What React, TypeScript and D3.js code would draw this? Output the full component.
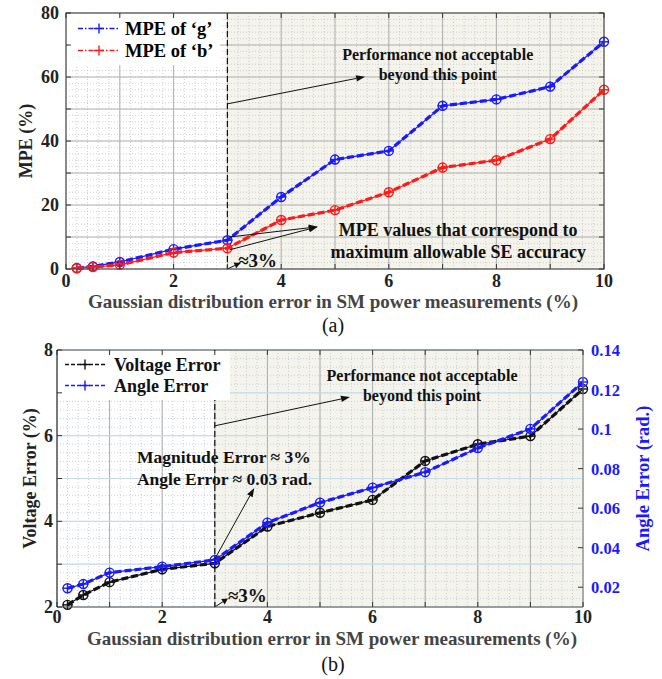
import React from 'react';
import * as d3 from 'd3';

// x values shared by both panels (% gaussian error)
const errLevels = [0.2, 0.5, 1, 2, 3, 4, 5, 6, 7, 8, 9, 10];

// panel (a)
const mpeG = [0.3, 0.8, 2.2, 6.2, 9.0, 22.5, 34.2, 36.9, 51, 53, 57, 71];
const mpeB = [0.2, 0.6, 1.3, 5.1, 6.5, 15.3, 18.4, 24, 31.7, 34, 40.6, 56];

// panel (b)
const voltErr = [2.05, 2.28, 2.58, 2.88, 3.02, 3.88, 4.2, 4.5, 5.41, 5.8, 5.99, 7.09];
const angleErr = [0.0195, 0.0216, 0.0274, 0.0304, 0.0338, 0.0527, 0.0628, 0.0704, 0.0782, 0.0904, 0.1001, 0.1238];

const xTicks = [0, 2, 4, 6, 8, 10];
const mpeTicks = [0, 20, 40, 60, 80];
const voltTicks = [2, 4, 6, 8];
const angleTicks = [0.02, 0.04, 0.06, 0.08, 0.1, 0.12, 0.14];

const FONT = '"Liberation Serif", "Times New Roman", serif';
const SHADE = '#f4f4ec';
const XLABEL = 'Gaussian distribution error in SM power measurements (%)';

const Marker = ({ x, y, color, circle = true }: any) => (
  <g stroke={color} strokeWidth={1.4} fill="none">
    {circle && <circle cx={x} cy={y} r={4.5} />}
    <line x1={x - 5} x2={x + 5} y1={y} y2={y} />
    <line x1={x} x2={x} y1={y - 5} y2={y + 5} />
  </g>
);

const Series = ({ xs, ys, x, y, color }: any) => {
  const pts = xs.map((v: number, i: number) => [x(v), y(ys[i])] as [number, number]);
  const path = d3.line()(pts) || '';
  return (
    <g>
      <path d={path} fill="none" stroke={color} strokeWidth={1.2} />
      <path d={path} fill="none" stroke={color} strokeWidth={3.2} strokeDasharray="7 3" />
      {pts.map((p: [number, number], i: number) => (
        <Marker key={i} x={p[0]} y={p[1]} color={color} />
      ))}
    </g>
  );
};

const Arrow = ({ x1, y1, x2, y2, head = 9 }: any) => {
  const a = Math.atan2(y2 - y1, x2 - x1);
  const w = 3.2;
  const bx = x2 - head * Math.cos(a);
  const by = y2 - head * Math.sin(a);
  const p = `${x2},${y2} ${bx - w * Math.sin(a)},${by + w * Math.cos(a)} ${bx + w * Math.sin(a)},${by - w * Math.cos(a)}`;
  return (
    <g>
      <line x1={x1} y1={y1} x2={bx} y2={by} stroke="#111" strokeWidth={1} />
      <polygon points={p} fill="#111" />
    </g>
  );
};

function PanelA() {
  const L = 66, R = 604, T = 13, B = 269;
  const x = d3.scaleLinear().domain([0, 10]).range([L, R]);
  const y = d3.scaleLinear().domain([0, 80]).range([B, T]);
  const minorX = d3.range(0, 10.001, 0.2);
  const minorY = d3.range(0, 80.001, 2);
  const majorX = d3.range(0, 11, 1);
  const majorY = d3.range(0, 81, 10);

  return (
    <g fontFamily={FONT} fontWeight="bold">
      <rect x={L} y={T} width={R - L} height={B - T} fill="#fff" />
      <rect x={x(3)} y={T} width={R - x(3)} height={B - T} fill={SHADE} />
      {minorX.map((v) => (
        <line key={'mx' + v} x1={x(v)} x2={x(v)} y1={T} y2={B} stroke="#c4c4c4" strokeWidth={0.8} strokeDasharray="1 2" />
      ))}
      {minorY.map((v) => (
        <line key={'my' + v} x1={L} x2={R} y1={y(v)} y2={y(v)} stroke="#c4c4c4" strokeWidth={0.8} strokeDasharray="1 2" />
      ))}
      {majorX.map((v) => (
        <line key={'Mx' + v} x1={x(v)} x2={x(v)} y1={T} y2={B} stroke="#b0b0b0" strokeWidth={1} />
      ))}
      {majorY.map((v) => (
        <line key={'My' + v} x1={L} x2={R} y1={y(v)} y2={y(v)} stroke="#b0b0b0" strokeWidth={1} />
      ))}
      <line x1={x(3)} x2={x(3)} y1={T} y2={B} stroke="#111" strokeWidth={1.2} strokeDasharray="6 3" />

      {/* legend */}
      <rect x={L + 2} y={T + 2} width={152} height={50} fill="#fff" />
      {[
        { c: '#1a1aff', t: 'MPE of \u2018g\u2019', yv: 28.5 },
        { c: '#ff1a1a', t: 'MPE of \u2018b\u2019', yv: 50.5 },
      ].map((d) => (
        <g key={d.t}>
          <line x1={78} x2={120} y1={d.yv} y2={d.yv} stroke={d.c} strokeWidth={1.3} strokeDasharray="5 2 1.5 2" />
          <Marker x={99} y={d.yv} color={d.c} circle={false} />
          <text x={125} y={d.yv + 6} fontSize={18.5}>{d.t}</text>
        </g>
      ))}

      <Series xs={errLevels} ys={mpeG} x={x} y={y} color="#1a1aff" />
      <Series xs={errLevels} ys={mpeB} x={x} y={y} color="#ff1a1a" />

      {/* annotations */}
      <Arrow x1={x(3)} y1={y(51.6)} x2={x(5.56)} y2={y(60.1)} />
      <text x={x(6.91)} y={y(65.3)} fontSize={16} textAnchor="middle" fill="#111">Performance not acceptable</text>
      <text x={x(6.91)} y={y(59.2)} fontSize={16} textAnchor="middle" fill="#111">beyond this point</text>
      <Arrow x1={x(3.04)} y1={y(10)} x2={x(4.68)} y2={y(13.2)} />
      <Arrow x1={x(3.04)} y1={y(6)} x2={x(4.68)} y2={y(13.2)} />
      <text x={x(7.29)} y={y(10.3)} fontSize={18} textAnchor="middle" fill="#111">MPE values that correspond to</text>
      <text x={x(7.29)} y={y(3.4)} fontSize={18} textAnchor="middle" fill="#111">maximum allowable SE accuracy</text>
      <Arrow x1={x(3)} y1={y(0)} x2={x(3.24)} y2={y(1.9)} head={6} />
      <text x={x(3.2)} y={y(0.6)} fontSize={19} fill="#111">{'\u22483%'}</text>

      {/* frame + ticks */}
      <rect x={L} y={T} width={R - L} height={B - T} fill="none" stroke="#444" strokeWidth={1} />
      {majorX.map((v) => (
        <g key={'tx' + v}>
          <line x1={x(v)} x2={x(v)} y1={B} y2={B - 5} stroke="#333" />
          <line x1={x(v)} x2={x(v)} y1={T} y2={T + 5} stroke="#333" />
        </g>
      ))}
      {majorY.map((v) => (
        <g key={'ty' + v}>
          <line x1={L} x2={L + 5} y1={y(v)} y2={y(v)} stroke="#333" />
          <line x1={R} x2={R - 5} y1={y(v)} y2={y(v)} stroke="#333" />
        </g>
      ))}
      {xTicks.map((v) => (
        <text key={'lx' + v} x={x(v)} y={B + 18} fontSize={18} textAnchor="middle" fill="#222">{v}</text>
      ))}
      {mpeTicks.map((v) => (
        <text key={'ly' + v} x={L - 7} y={y(v) + 6} fontSize={18} textAnchor="end" fill="#222">{v}</text>
      ))}
      <text transform={`translate(${L - 34},${(T + B) / 2}) rotate(-90)`} fontSize={18} textAnchor="middle" fill="#222">MPE (%)</text>
      <text x={333} y={B + 39} fontSize={19} textAnchor="middle" fill="#444">{XLABEL}</text>
      <text x={333} y={332} fontSize={20} fontWeight="normal" textAnchor="middle" fill="#111">(a)</text>
    </g>
  );
}

function PanelB() {
  const L = 57, R = 583, T = 350, B = 607;
  const x = d3.scaleLinear().domain([0, 10]).range([L, R]);
  const y = d3.scaleLinear().domain([2, 8]).range([B, T]);
  const y2 = d3.scaleLinear().domain([0.01, 0.14]).range([B, T]);
  const minorX = d3.range(0, 10.001, 0.2);
  const minorY = d3.range(2, 8.001, 0.2);
  const majorX = d3.range(0, 11, 1);
  const majorY = d3.range(2, 9, 1);

  return (
    <g fontFamily={FONT} fontWeight="bold">
      <rect x={L} y={T} width={R - L} height={B - T} fill="#fff" />
      <rect x={x(3)} y={T} width={R - x(3)} height={B - T} fill={SHADE} />
      {minorX.map((v) => (
        <line key={'mx' + v} x1={x(v)} x2={x(v)} y1={T} y2={B} stroke="#b9c6cf" strokeWidth={0.8} strokeDasharray="1 2" />
      ))}
      {minorY.map((v) => (
        <line key={'my' + v} x1={L} x2={R} y1={y(v)} y2={y(v)} stroke="#b9c9d6" strokeWidth={0.8} strokeDasharray="1 2" />
      ))}
      {majorX.map((v) => (
        <line key={'Mx' + v} x1={x(v)} x2={x(v)} y1={T} y2={B} stroke="#aaaaaa" strokeWidth={1} />
      ))}
      {majorY.map((v) => (
        <line key={'My' + v} x1={L} x2={R} y1={y(v)} y2={y(v)} stroke="#c5dcea" strokeWidth={1.2} />
      ))}
      <line x1={x(3)} x2={x(3)} y1={T} y2={B} stroke="#111" strokeWidth={1.2} strokeDasharray="6 3" />

      {/* legend */}
      <rect x={L + 1} y={T + 1} width={172} height={49} fill="#fff" />
      {[
        { c: '#111111', t: 'Voltage Error', yv: 364.5 },
        { c: '#1a1aff', t: 'Angle Error', yv: 385.5 },
      ].map((d) => (
        <g key={d.t}>
          <line x1={65} x2={106} y1={d.yv} y2={d.yv} stroke={d.c} strokeWidth={1.3} strokeDasharray="4 2" />
          <Marker x={85} y={d.yv} color={d.c} circle={false} />
          <text x={114} y={d.yv + 6} fontSize={18} fill="#111">{d.t}</text>
        </g>
      ))}

      <Series xs={errLevels} ys={voltErr} x={x} y={y} color="#111111" />
      <Series xs={errLevels} ys={angleErr} x={x} y={y2} color="#1a1aff" />

      {/* annotations */}
      <Arrow x1={x(3)} y1={y(6.23)} x2={x(5.57)} y2={y(6.9)} />
      <text x={x(6.94)} y={y(7.28)} fontSize={16} textAnchor="middle" fill="#111">Performance not acceptable</text>
      <text x={x(6.94)} y={y(6.81)} fontSize={16} textAnchor="middle" fill="#111">beyond this point</text>
      <text x={x(1.52)} y={y(5.36)} fontSize={17.5} fill="#111">{'Magnitude Error \u2248 3%'}</text>
      <text x={x(1.52)} y={y(4.85)} fontSize={17.5} fill="#111">{'Angle Error \u2248 0.03 rad.'}</text>
      <Arrow x1={x(3)} y1={y(3.12)} x2={x(3.75)} y2={y(4.78)} />
      <Arrow x1={x(3)} y1={y(2)} x2={x(3.25)} y2={y(2.2)} head={6} />
      <text x={x(3.25)} y={y(2.12)} fontSize={19} fill="#111">{'\u22483%'}</text>

      {/* frame + ticks */}
      <line x1={L} x2={R} y1={T} y2={T} stroke="#555" />
      <line x1={L} x2={R} y1={B} y2={B} stroke="#555" />
      <line x1={L} x2={L} y1={T} y2={B} stroke="#222" />
      <line x1={R} x2={R} y1={T} y2={B} stroke="#888" />
      {majorX.map((v) => (
        <g key={'tx' + v}>
          <line x1={x(v)} x2={x(v)} y1={B} y2={B - 5} stroke="#333" />
          <line x1={x(v)} x2={x(v)} y1={T} y2={T + 5} stroke="#333" />
        </g>
      ))}
      {majorY.map((v) => (
        <line key={'ty' + v} x1={L} x2={L + 5} y1={y(v)} y2={y(v)} stroke="#333" />
      ))}
      {angleTicks.map((v) => (
        <line key={'ty2' + v} x1={R} x2={R - 5} y1={y2(v)} y2={y2(v)} stroke="#333" />
      ))}
      {xTicks.map((v) => (
        <text key={'lx' + v} x={x(v)} y={B + 16} fontSize={18} textAnchor="middle" fill="#222">{v}</text>
      ))}
      {voltTicks.map((v) => (
        <text key={'ly' + v} x={L - 4} y={y(v) + 6} fontSize={18} textAnchor="end" fill="#222">{v}</text>
      ))}
      {angleTicks.map((v) => (
        <text key={'ly2' + v} x={R + 8} y={y2(v) + 6} fontSize={16.5} fill="#1a1aff">{d3.format('~g')(v)}</text>
      ))}
      <text transform={`translate(${L - 21},${(T + B) / 2}) rotate(-90)`} fontSize={18} textAnchor="middle" fill="#222">Voltage Error (%)</text>
      <text transform={`translate(${R + 66},${(T + B) / 2}) rotate(-90)`} fontSize={18.5} textAnchor="middle" fill="#1a1aff">Angle Error (rad.)</text>
      <text x={332} y={B + 38} fontSize={19} textAnchor="middle" fill="#444">{XLABEL}</text>
      <text x={333} y={671} fontSize={20} fontWeight="normal" textAnchor="middle" fill="#111">(b)</text>
    </g>
  );
}

export default function App() {
  return (
    <svg width={662} height={679} style={{ position: 'absolute', left: 0, top: 0, background: '#fff' }}>
      <rect width={662} height={679} fill="#fff" />
      <PanelA />
      <PanelB />
    </svg>
  );
}
